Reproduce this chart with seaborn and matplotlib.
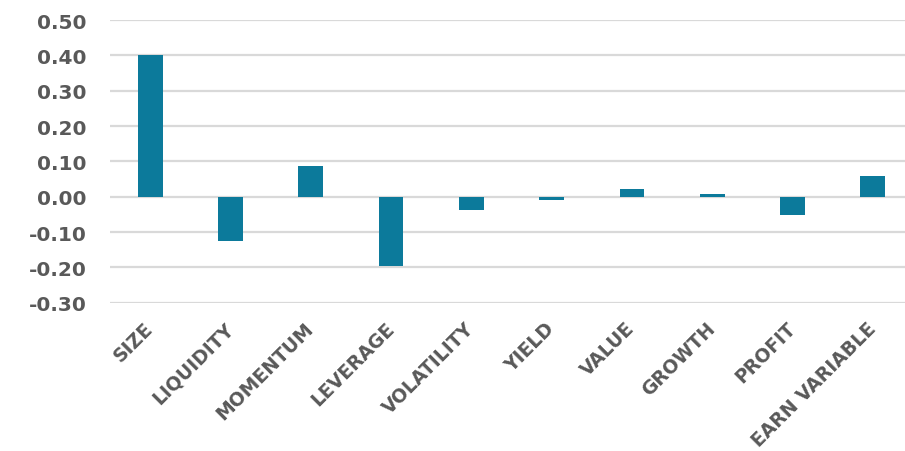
import matplotlib
matplotlib.use("Agg")
import matplotlib.pyplot as plt
import seaborn as sns
import pandas as pd

categories = ["SIZE", "LIQUIDITY", "MOMENTUM", "LEVERAGE", "VOLATILITY",
              "YIELD", "VALUE", "GROWTH", "PROFIT", "EARN VARIABLE"]
values = [0.40, -0.125, 0.088, -0.195, -0.039, -0.010, 0.021, 0.009, -0.052, 0.058]
y_ticks = [-0.30, -0.20, -0.10, 0.00, 0.10, 0.20, 0.30, 0.40, 0.50]

sns.set_theme(style="white")
plt.rcParams["font.family"] = ["DejaVu Sans"]

df = pd.DataFrame({"factor": categories, "value": values})

fig = plt.figure(figsize=(9.05, 4.52), dpi=100)
ax = fig.add_axes([110 / 905, 1 - 303.7 / 452, 803 / 905, (303.7 - 21) / 452])

sns.barplot(data=df, x="factor", y="value", color="#0C7A9B", width=0.31,
            saturation=1, linewidth=0, ax=ax, zorder=3)

ax.set_ylim(-0.30, 0.50)
ax.set_xlim(-0.5, len(categories) - 0.5)
ax.set_yticks(y_ticks)
ax.set_yticklabels([f"{t:.2f}" for t in y_ticks])
ax.yaxis.grid(True, color="#D9D9D9", linewidth=1.6, zorder=0)
ax.xaxis.grid(False)
for s in ax.spines.values():
    s.set_visible(False)
ax.set_xlabel("")
ax.set_ylabel("")
ax.tick_params(axis="y", length=0, pad=17, labelsize=14.5, labelcolor="#595959")
ax.tick_params(axis="x", length=0, pad=16, labelsize=13.5, labelcolor="#595959")
for lab in ax.get_yticklabels():
    lab.set_fontweight("bold")
for lab in ax.get_xticklabels():
    lab.set_fontweight("bold")
    lab.set_rotation(45)
    lab.set_ha("right")
    lab.set_va("center")
    lab.set_rotation_mode("anchor")

fig.savefig("out.png", dpi=100)
